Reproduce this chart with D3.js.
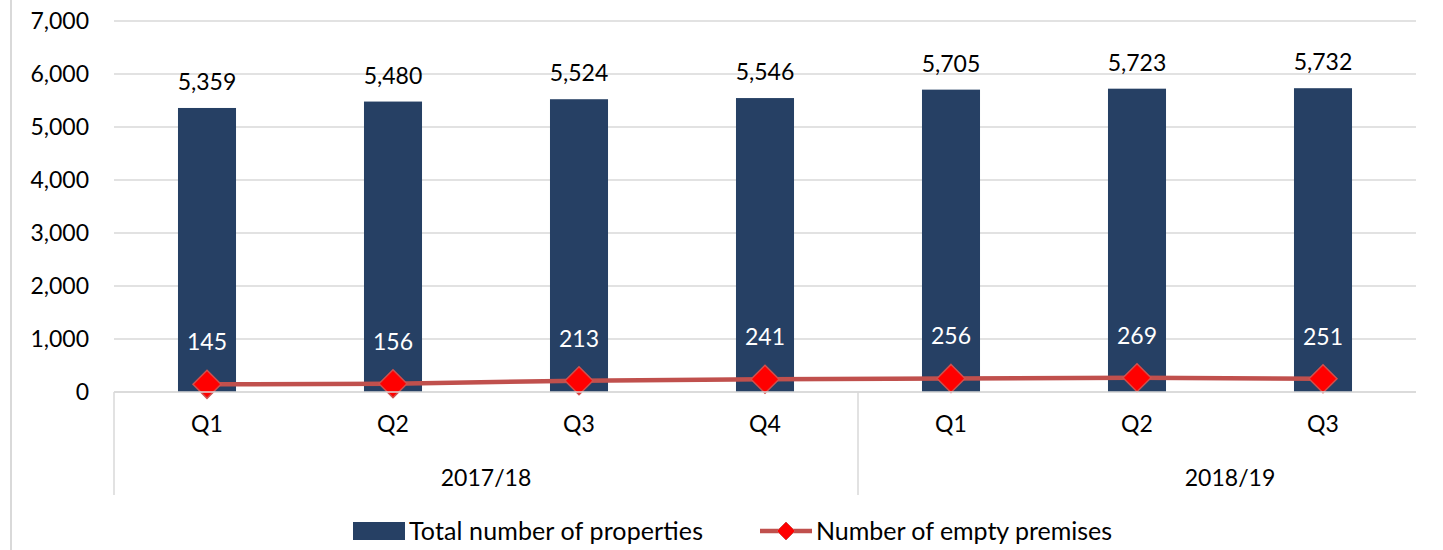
<!DOCTYPE html>
<html lang="en">
<head>
<meta charset="utf-8" />
<title>Properties and empty premises</title>
<style>
  body { margin: 0; background: #fff; }
  text { font-family: Lato, "Open Sans", sans-serif; fill: #000; }
  .grid line { stroke: #d9d9d9; stroke-width: 1.5; }
</style>
</head>
<body>
<div id="chart"></div>
<script src="https://d3js.org/d3.v7.min.js"></script>
<script>
var quarters = ['Q1', 'Q2', 'Q3', 'Q4', 'Q1', 'Q2', 'Q3'];
var years = ['2017/18', '2017/18', '2017/18', '2017/18', '2018/19', '2018/19', '2018/19'];
var totalProps = [5359, 5480, 5524, 5546, 5705, 5723, 5732];
var emptyPremises = [145, 156, 213, 241, 256, 269, 251];
var yTicks = [0, 1000, 2000, 3000, 4000, 5000, 6000, 7000];

var width = 1443, height = 550;
var plotL = 114, plotR = 1416, plotT = 21, plotB = 392;

var svg = d3.select('#chart').append('svg')
    .attr('width', width)
    .attr('height', height);

var keys = quarters.map(function(q, i) { return years[i] + ' ' + q; });

var x = d3.scaleBand().domain(keys).range([plotL, plotR]).padding(0);
var y = d3.scaleLinear().domain([0, 7000]).range([plotB, plotT]);
var barW = x.bandwidth() * 0.312;
var fmt = d3.format(',');

// outer border
svg.append('line')
  .attr('x1', 11).attr('x2', 11).attr('y1', 0).attr('y2', height)
  .attr('stroke', '#d9d9d9').attr('stroke-width', 2);

// gridlines
svg.append('g').attr('class', 'grid')
  .selectAll('line').data(yTicks).enter().append('line')
  .attr('x1', plotL).attr('x2', plotR)
  .attr('y1', function(d) { return y(d); })
  .attr('y2', function(d) { return y(d); });

// y axis labels
svg.append('g')
  .attr('transform', 'translate(' + (plotL - 25) + ',0)')
  .call(d3.axisLeft(y).tickValues(yTicks).tickFormat(fmt).tickSize(0).tickPadding(0))
  .call(function(g) {
    g.select('.domain').remove();
    g.selectAll('text').attr('font-size', 23).attr('font-family', 'Lato, sans-serif').attr('fill', '#000');
  });

// bars
svg.selectAll('rect.bar').data(totalProps).enter().append('rect')
  .attr('class', 'bar')
  .attr('x', function(d, i) { return x(keys[i]) + (x.bandwidth() - barW) / 2; })
  .attr('y', function(d) { return y(d); })
  .attr('width', barW)
  .attr('height', function(d) { return y(0) - y(d); })
  .attr('fill', '#264064');

svg.selectAll('text.tot').data(totalProps).enter().append('text')
  .attr('class', 'tot')
  .attr('x', function(d, i) { return x(keys[i]) + x.bandwidth() / 2; })
  .attr('y', function(d) { return y(d) - 18; })
  .attr('text-anchor', 'middle')
  .attr('font-size', 23)
  .text(function(d) { return fmt(d); });

// line series
var line = d3.line()
  .x(function(d, i) { return x(keys[i]) + x.bandwidth() / 2; })
  .y(function(d) { return y(d); });

svg.append('path')
  .datum(emptyPremises)
  .attr('d', line)
  .attr('fill', 'none')
  .attr('stroke', '#c0504d')
  .attr('stroke-width', 4.5);

var diamond = 'M0,-14L14,0L0,14L-14,0Z';
svg.selectAll('path.mk').data(emptyPremises).enter().append('path')
  .attr('class', 'mk')
  .attr('d', diamond)
  .attr('transform', function(d, i) {
    return 'translate(' + (x(keys[i]) + x.bandwidth() / 2) + ',' + y(d) + ')';
  })
  .attr('fill', '#ff0000')
  .attr('stroke', '#d0504d')
  .attr('stroke-width', 1.5);

svg.selectAll('text.emp').data(emptyPremises).enter().append('text')
  .attr('class', 'emp')
  .attr('x', function(d, i) { return x(keys[i]) + x.bandwidth() / 2; })
  .attr('y', function(d) { return y(d) - 34; })
  .attr('text-anchor', 'middle')
  .attr('font-size', 23)
  .style('fill', '#fff')
  .text(function(d) { return d; });

// category axis
svg.append('line')
  .attr('x1', plotL).attr('x2', plotR).attr('y1', plotB).attr('y2', plotB)
  .attr('stroke', '#d9d9d9').attr('stroke-width', 1.5);

svg.selectAll('text.q').data(quarters).enter().append('text')
  .attr('class', 'q')
  .attr('x', function(d, i) { return x(keys[i]) + x.bandwidth() / 2; })
  .attr('y', 432)
  .attr('text-anchor', 'middle')
  .attr('font-size', 23)
  .text(function(d) { return d; });

var yearNames = Array.from(new Set(years));
yearNames.forEach(function(yr, gi) {
  var idx = years.map(function(v, i) { return v === yr ? i : -1; }).filter(function(i) { return i >= 0; });
  var x0 = x(keys[idx[0]]);
  var x1 = x(keys[idx[idx.length - 1]]) + x.bandwidth();
  // last group is centred as if it extended one more half band
  var cx = gi === yearNames.length - 1 ? (x0 + x1 + x.step()) / 2 : (x0 + x1) / 2;
  svg.append('line')
    .attr('x1', x0).attr('x2', x0).attr('y1', plotB).attr('y2', 495)
    .attr('stroke', '#d9d9d9').attr('stroke-width', 1.5);
  svg.append('text')
    .attr('x', cx).attr('y', 486)
    .attr('text-anchor', 'middle')
    .attr('font-size', 23)
    .text(yr);
});

// legend
var lg = svg.append('g');
lg.append('rect').attr('x', 353).attr('y', 522).attr('width', 52).attr('height', 18).attr('fill', '#264064');
lg.append('text').attr('x', 409).attr('y', 540).attr('font-size', 25).attr('textLength', 294).text('Total number of properties');
lg.append('line').attr('x1', 760).attr('x2', 812).attr('y1', 531).attr('y2', 531)
  .attr('stroke', '#c0504d').attr('stroke-width', 4.5);
lg.append('path').attr('d', 'M0,-9L9,0L0,9L-9,0Z').attr('transform', 'translate(786,531)')
  .attr('fill', '#ff0000').attr('stroke', '#d0504d').attr('stroke-width', 1);
lg.append('text').attr('x', 816).attr('y', 540).attr('font-size', 25).attr('textLength', 296).text('Number of empty premises');
</script>
</body>
</html>
